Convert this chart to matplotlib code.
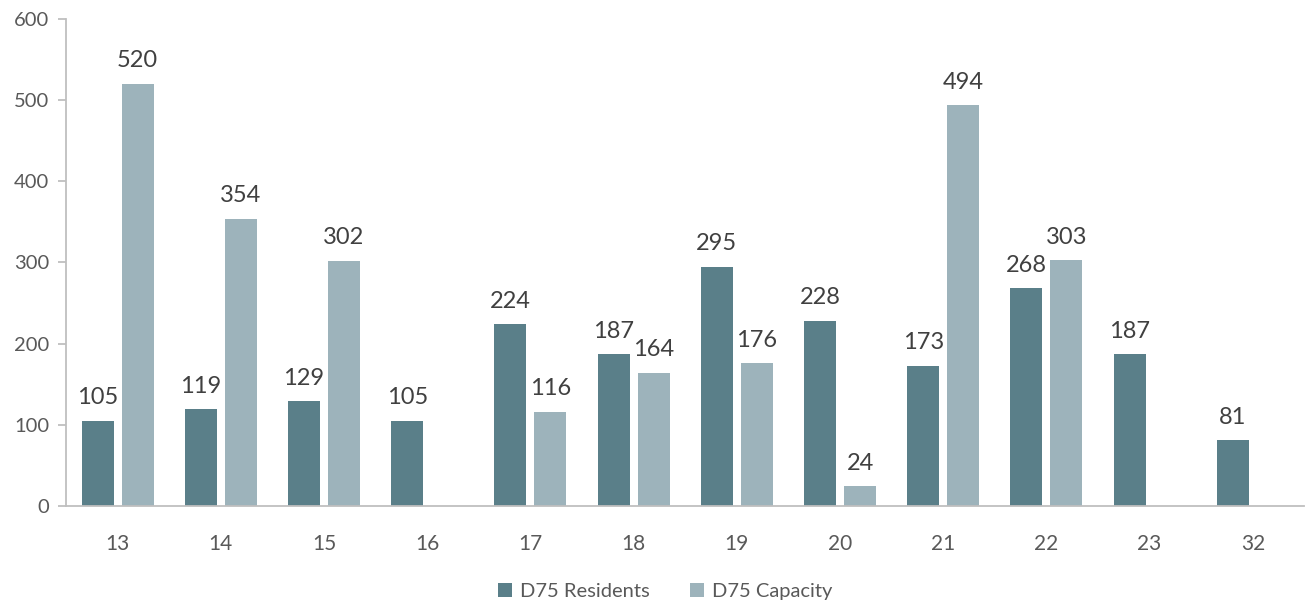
import matplotlib.pyplot as plt
import numpy as np

plt.rcParams['font.family'] = ['Lato', 'DejaVu Sans']

# district numbers and values
districts = ['13', '14', '15', '16', '17', '18', '19', '20', '21', '22', '23', '32']
residents = [105, 119, 129, 105, 224, 187, 295, 228, 173, 268, 187, 81]
capacity = [520, 354, 302, np.nan, 116, 164, 176, 24, 494, 303, np.nan, np.nan]

res_color = '#5A7F89'
cap_color = '#9DB3BB'
label_color = '#404040'
tick_color = '#595959'
axis_color = '#BFBFBF'

fig = plt.figure(figsize=(13.07, 6.04), dpi=100)
ax = fig.add_axes([0.0505, 0.1623, 0.9475, 0.8062])

x = np.arange(len(districts))
w = 0.31
off = 0.194
b1 = ax.bar(x - off, residents, w, color=res_color, label='D75 Residents')
b2 = ax.bar(x + off, capacity, w, color=cap_color, label='D75 Capacity')

# value labels above bars
for bars, vals in ((b1, residents), (b2, capacity)):
    for rect, v in zip(bars, vals):
        if np.isnan(v):
            continue
        ax.annotate(str(int(v)), (rect.get_x() + rect.get_width() / 2, v),
                    xytext=(0, 9), textcoords='offset points',
                    ha='center', va='bottom', fontsize=17, color=label_color)

ax.set_xlim(-0.5, len(districts) - 0.5)
ax.set_ylim(0, 600)
ax.set_yticks(range(0, 601, 100))
ax.set_xticks(x)
ax.set_xticklabels(districts)

for s in ('top', 'right'):
    ax.spines[s].set_visible(False)
ax.spines['left'].set_color(axis_color)
ax.spines['bottom'].set_color(axis_color)
ax.spines['left'].set_linewidth(1.3)
ax.spines['bottom'].set_linewidth(1.3)
ax.tick_params(axis='y', colors=axis_color, length=6, width=1.3, labelsize=14.5,
               labelcolor=tick_color, pad=6)
ax.tick_params(axis='x', length=0, labelsize=15, labelcolor=tick_color, pad=20)

fig.legend(loc='center', bbox_to_anchor=(0.509, 0.02), ncol=2, frameon=False,
           fontsize=14.5, labelcolor=tick_color, handlelength=0.7, handleheight=0.7,
           handletextpad=0.4, columnspacing=2.0)

fig.savefig('out.png', dpi=100)
